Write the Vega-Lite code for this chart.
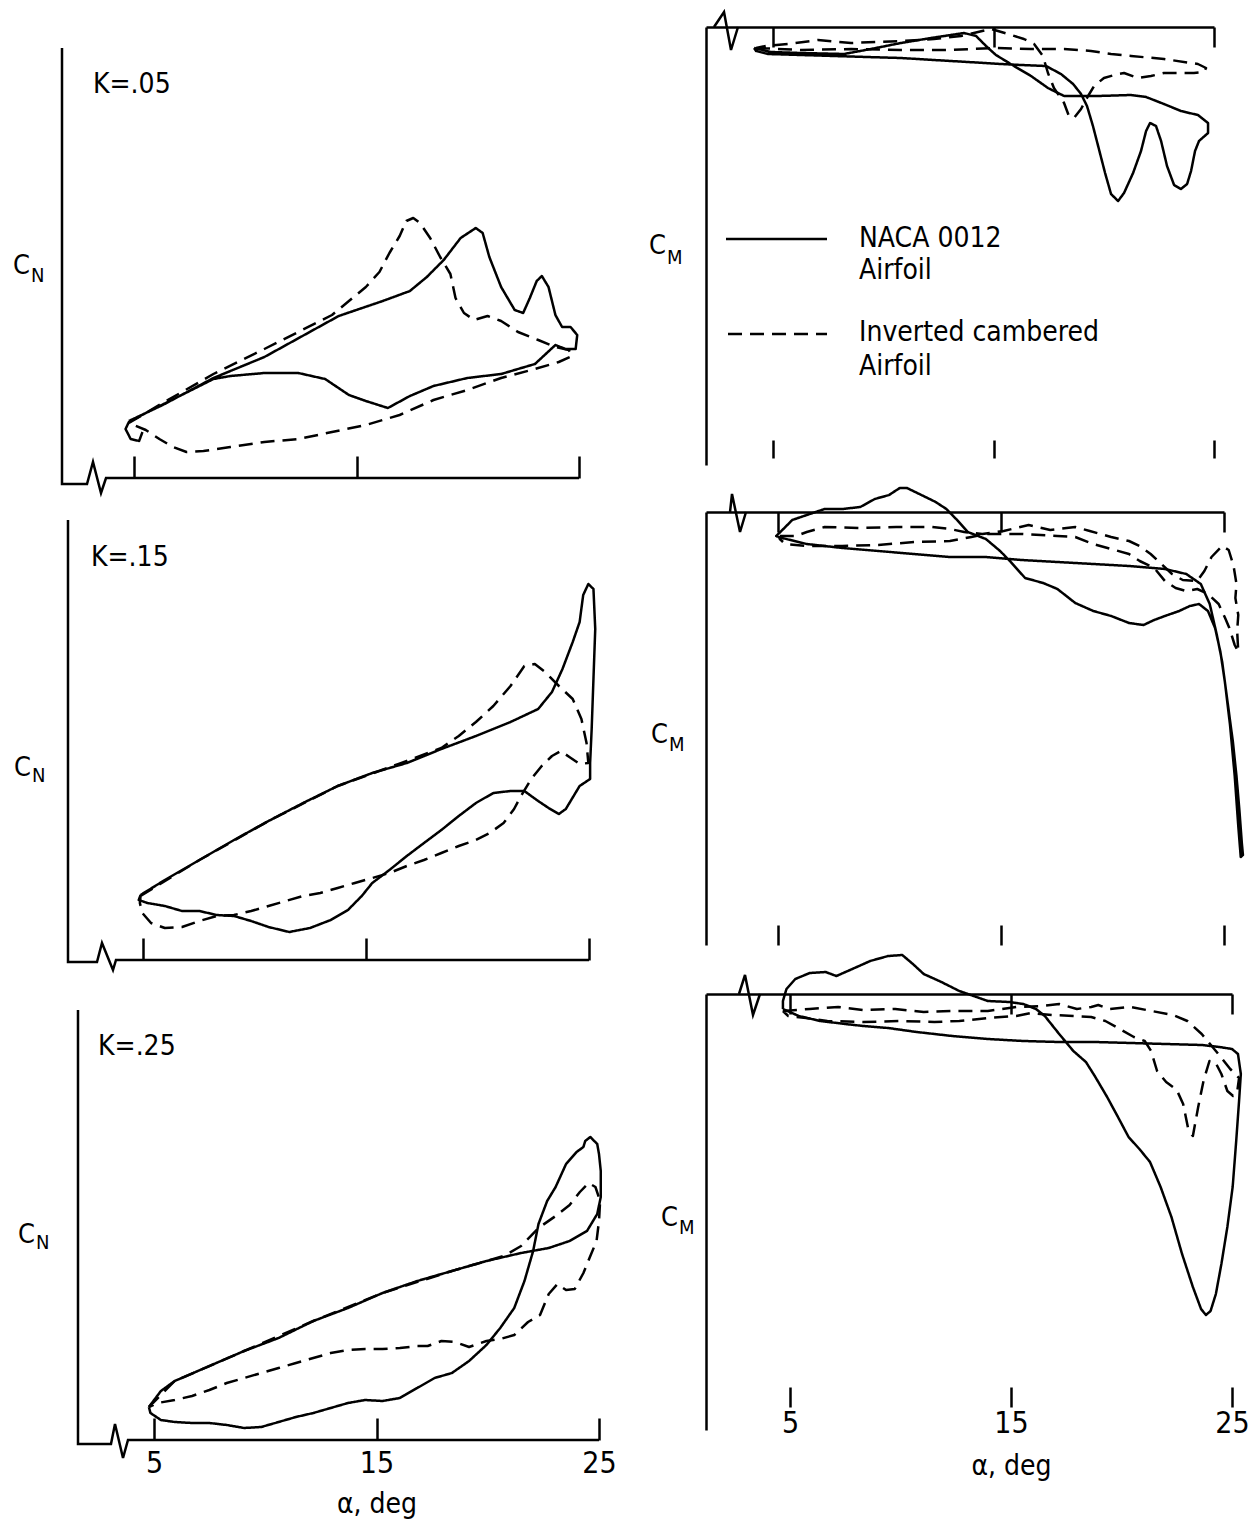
{
"$schema": "https://vega.github.io/schema/vega-lite/v6.json",
"padding": {"left": 12, "top": 6, "right": 10, "bottom": 10},
"background": "white",
"config": {
  "view": {"stroke": null},
  "font": "DejaVu Sans Condensed, DejaVu Sans",
  "text": {"color": "black"},
  "line": {"color": "black"},
  "axis": {"grid": false, "domainColor": "black", "tickColor": "black", "labelColor": "black", "titleColor": "black", "tickWidth": 2.5, "domainWidth": 2.5, "labelFontSize": 30, "titleFontSize": 28, "titleFontWeight": "normal", "labelFlush": false, "labelOverlap": false, "labelFont": "DejaVu Sans Condensed, DejaVu Sans", "titleFont": "DejaVu Sans Condensed, DejaVu Sans"}
},
"datasets": {
"frame": [
{"panel":"L1","i":1,"alpha":1.764,"coef":4.30},{"panel":"L1","i":2,"alpha":1.764,"coef":-0.06},{"panel":"L1","i":3,"alpha":2.888,"coef":-0.06},{"panel":"L1","i":4,"alpha":3.157,"coef":0.16},{"panel":"L1","i":5,"alpha":3.517,"coef":-0.15},{"panel":"L1","i":6,"alpha":3.742,"coef":0},{"panel":"L1","i":7,"alpha":25,"coef":0},
{"panel":"L2","i":1,"alpha":1.637,"coef":4.40},{"panel":"L2","i":2,"alpha":1.637,"coef":-0.02},{"panel":"L2","i":3,"alpha":2.937,"coef":-0.02},{"panel":"L2","i":4,"alpha":3.161,"coef":0.17},{"panel":"L2","i":5,"alpha":3.655,"coef":-0.10},{"panel":"L2","i":6,"alpha":3.789,"coef":0},{"panel":"L2","i":7,"alpha":25,"coef":0},
{"panel":"L3","i":1,"alpha":1.584,"coef":4.30},{"panel":"L3","i":2,"alpha":1.584,"coef":-0.04},{"panel":"L3","i":3,"alpha":3.067,"coef":-0.04},{"panel":"L3","i":4,"alpha":3.247,"coef":0.16},{"panel":"L3","i":5,"alpha":3.607,"coef":-0.18},{"panel":"L3","i":6,"alpha":3.831,"coef":0},{"panel":"L3","i":7,"alpha":25,"coef":0},
{"panel":"R1","i":1,"alpha":2.324,"coef":0},{"panel":"R1","i":2,"alpha":2.778,"coef":0.15},{"panel":"R1","i":3,"alpha":3.095,"coef":-0.23},{"panel":"R1","i":4,"alpha":3.413,"coef":0},
{"panel":"R2","i":1,"alpha":2.848,"coef":0},{"panel":"R2","i":2,"alpha":2.937,"coef":0.18},{"panel":"R2","i":3,"alpha":3.296,"coef":-0.20},{"panel":"R2","i":4,"alpha":3.565,"coef":0},
{"panel":"R3","i":1,"alpha":2.692,"coef":0},{"panel":"R3","i":2,"alpha":2.964,"coef":0.19},{"panel":"R3","i":3,"alpha":3.326,"coef":-0.21},{"panel":"R3","i":4,"alpha":3.643,"coef":0}
],
"labels": [
{"panel":"L1","role":"sym","text":"C","alpha":-0.44,"coef":2.12},{"panel":"L1","role":"sub","text":"N","alpha":0.37,"coef":2.02},{"panel":"L1","role":"k","text":"K=.05","alpha":3.157,"coef":3.93},
{"panel":"L2","role":"sym","text":"C","alpha":-0.785,"coef":1.92},{"panel":"L2","role":"sub","text":"N","alpha":0.02,"coef":1.84},{"panel":"L2","role":"k","text":"K=.15","alpha":2.668,"coef":4.02},
{"panel":"L3","role":"sym","text":"C","alpha":-1.11,"coef":2.05},{"panel":"L3","role":"sub","text":"N","alpha":-0.30,"coef":1.97},{"panel":"L3","role":"k","text":"K=.25","alpha":2.483,"coef":3.93},
{"panel":"R1","role":"sym","text":"C","alpha":-0.624,"coef":-2.19},{"panel":"R1","role":"sub","text":"M","alpha":0.19,"coef":-2.31},
{"panel":"R1","role":"leg","text":"NACA 0012","alpha":8.9,"coef":-2.12},{"panel":"R1","role":"leg","text":"Airfoil","alpha":8.9,"coef":-2.44},{"panel":"R1","role":"leg","text":"Inverted cambered","alpha":8.9,"coef":-3.06},{"panel":"R1","role":"leg","text":"Airfoil","alpha":8.9,"coef":-3.40},
{"panel":"R2","role":"sym","text":"C","alpha":-0.695,"coef":-2.23},{"panel":"R2","role":"sub","text":"M","alpha":0.11,"coef":-2.33},
{"panel":"R3","role":"sym","text":"C","alpha":-0.837,"coef":-2.24},{"panel":"R3","role":"sub","text":"M","alpha":-0.02,"coef":-2.34}
],
"legend": [
{"airfoil":"NACA 0012","i":1,"alpha":2.868,"coef":-2.12},{"airfoil":"NACA 0012","i":2,"alpha":7.449,"coef":-2.12},
{"airfoil":"Inverted cambered","i":1,"alpha":2.959,"coef":-3.07},{"airfoil":"Inverted cambered","i":2,"alpha":7.449,"coef":-3.07}
],
"curves": [
{"panel":"L1","airfoil":"NACA 0012","i":1,"alpha":4.77,"coef":0.57},{"panel":"L1","airfoil":"NACA 0012","i":2,"alpha":6.29,"coef":0.73},{"panel":"L1","airfoil":"NACA 0012","i":3,"alpha":8.57,"coef":1.00},{"panel":"L1","airfoil":"NACA 0012","i":4,"alpha":10.86,"coef":1.21},{"panel":"L1","airfoil":"NACA 0012","i":5,"alpha":14.20,"coef":1.62},{"panel":"L1","airfoil":"NACA 0012","i":6,"alpha":16.18,"coef":1.77},{"panel":"L1","airfoil":"NACA 0012","i":7,"alpha":17.40,"coef":1.87},{"panel":"L1","airfoil":"NACA 0012","i":8,"alpha":18.16,"coef":2.01},{"panel":"L1","airfoil":"NACA 0012","i":9,"alpha":18.92,"coef":2.18},{"panel":"L1","airfoil":"NACA 0012","i":10,"alpha":19.68,"coef":2.40},
{"panel":"L1","airfoil":"NACA 0012","i":11,"alpha":20.36,"coef":2.50},{"panel":"L1","airfoil":"NACA 0012","i":12,"alpha":20.67,"coef":2.45},{"panel":"L1","airfoil":"NACA 0012","i":13,"alpha":20.97,"coef":2.21},{"panel":"L1","airfoil":"NACA 0012","i":14,"alpha":21.50,"coef":1.91},{"panel":"L1","airfoil":"NACA 0012","i":15,"alpha":22.11,"coef":1.68},{"panel":"L1","airfoil":"NACA 0012","i":16,"alpha":22.49,"coef":1.65},{"panel":"L1","airfoil":"NACA 0012","i":17,"alpha":22.79,"coef":1.80},{"panel":"L1","airfoil":"NACA 0012","i":18,"alpha":23.10,"coef":1.97},{"panel":"L1","airfoil":"NACA 0012","i":19,"alpha":23.33,"coef":2.02},{"panel":"L1","airfoil":"NACA 0012","i":20,"alpha":23.63,"coef":1.91},
{"panel":"L1","airfoil":"NACA 0012","i":21,"alpha":23.94,"coef":1.63},{"panel":"L1","airfoil":"NACA 0012","i":22,"alpha":24.24,"coef":1.51},{"panel":"L1","airfoil":"NACA 0012","i":23,"alpha":24.62,"coef":1.51},{"panel":"L1","airfoil":"NACA 0012","i":24,"alpha":24.92,"coef":1.43},{"panel":"L1","airfoil":"NACA 0012","i":25,"alpha":24.85,"coef":1.29},{"panel":"L1","airfoil":"NACA 0012","i":26,"alpha":24.39,"coef":1.29},{"panel":"L1","airfoil":"NACA 0012","i":27,"alpha":23.94,"coef":1.33},{"panel":"L1","airfoil":"NACA 0012","i":28,"alpha":23.02,"coef":1.14},{"panel":"L1","airfoil":"NACA 0012","i":29,"alpha":21.50,"coef":1.04},{"panel":"L1","airfoil":"NACA 0012","i":30,"alpha":19.98,"coef":1.00},
{"panel":"L1","airfoil":"NACA 0012","i":31,"alpha":18.46,"coef":0.92},{"panel":"L1","airfoil":"NACA 0012","i":32,"alpha":17.40,"coef":0.82},{"panel":"L1","airfoil":"NACA 0012","i":33,"alpha":16.41,"coef":0.70},{"panel":"L1","airfoil":"NACA 0012","i":34,"alpha":15.42,"coef":0.77},{"panel":"L1","airfoil":"NACA 0012","i":35,"alpha":14.66,"coef":0.83},{"panel":"L1","airfoil":"NACA 0012","i":36,"alpha":13.59,"coef":0.99},{"panel":"L1","airfoil":"NACA 0012","i":37,"alpha":12.38,"coef":1.05},{"panel":"L1","airfoil":"NACA 0012","i":38,"alpha":10.86,"coef":1.05},{"panel":"L1","airfoil":"NACA 0012","i":39,"alpha":9.33,"coef":1.02},{"panel":"L1","airfoil":"NACA 0012","i":40,"alpha":8.57,"coef":0.99},
{"panel":"L1","airfoil":"NACA 0012","i":41,"alpha":7.05,"coef":0.82},{"panel":"L1","airfoil":"NACA 0012","i":42,"alpha":5.53,"coef":0.65},{"panel":"L1","airfoil":"NACA 0012","i":43,"alpha":4.77,"coef":0.56},{"panel":"L1","airfoil":"NACA 0012","i":44,"alpha":4.62,"coef":0.49},{"panel":"L1","airfoil":"NACA 0012","i":45,"alpha":4.85,"coef":0.39},{"panel":"L1","airfoil":"NACA 0012","i":46,"alpha":5.23,"coef":0.37},{"panel":"L1","airfoil":"NACA 0012","i":47,"alpha":5.38,"coef":0.46},

{"panel":"L1","airfoil":"Inverted cambered","i":1,"alpha":4.77,"coef":0.55},{"panel":"L1","airfoil":"Inverted cambered","i":2,"alpha":6.29,"coef":0.75},{"panel":"L1","airfoil":"Inverted cambered","i":3,"alpha":8.57,"coef":1.04},{"panel":"L1","airfoil":"Inverted cambered","i":4,"alpha":10.86,"coef":1.29},{"panel":"L1","airfoil":"Inverted cambered","i":5,"alpha":12.38,"coef":1.46},{"panel":"L1","airfoil":"Inverted cambered","i":6,"alpha":13.90,"coef":1.63},{"panel":"L1","airfoil":"Inverted cambered","i":7,"alpha":15.42,"coef":1.91},{"panel":"L1","airfoil":"Inverted cambered","i":8,"alpha":16.03,"coef":2.06},{"panel":"L1","airfoil":"Inverted cambered","i":9,"alpha":16.48,"coef":2.25},{"panel":"L1","airfoil":"Inverted cambered","i":10,"alpha":16.94,"coef":2.42},
{"panel":"L1","airfoil":"Inverted cambered","i":11,"alpha":17.24,"coef":2.57},{"panel":"L1","airfoil":"Inverted cambered","i":12,"alpha":17.55,"coef":2.60},{"panel":"L1","airfoil":"Inverted cambered","i":13,"alpha":17.85,"coef":2.55},{"panel":"L1","airfoil":"Inverted cambered","i":14,"alpha":18.31,"coef":2.40},{"panel":"L1","airfoil":"Inverted cambered","i":15,"alpha":18.76,"coef":2.21},{"panel":"L1","airfoil":"Inverted cambered","i":16,"alpha":19.22,"coef":2.04},{"panel":"L1","airfoil":"Inverted cambered","i":17,"alpha":19.45,"coef":1.80},{"panel":"L1","airfoil":"Inverted cambered","i":18,"alpha":19.83,"coef":1.65},{"panel":"L1","airfoil":"Inverted cambered","i":19,"alpha":20.29,"coef":1.58},{"panel":"L1","airfoil":"Inverted cambered","i":20,"alpha":20.89,"coef":1.62},
{"panel":"L1","airfoil":"Inverted cambered","i":21,"alpha":21.50,"coef":1.57},{"panel":"L1","airfoil":"Inverted cambered","i":22,"alpha":22.26,"coef":1.46},{"panel":"L1","airfoil":"Inverted cambered","i":23,"alpha":23.17,"coef":1.38},{"panel":"L1","airfoil":"Inverted cambered","i":24,"alpha":23.94,"coef":1.31},{"panel":"L1","airfoil":"Inverted cambered","i":25,"alpha":24.54,"coef":1.28},{"panel":"L1","airfoil":"Inverted cambered","i":26,"alpha":24.70,"coef":1.22},{"panel":"L1","airfoil":"Inverted cambered","i":27,"alpha":24.09,"coef":1.16},{"panel":"L1","airfoil":"Inverted cambered","i":28,"alpha":23.02,"coef":1.09},{"panel":"L1","airfoil":"Inverted cambered","i":29,"alpha":21.50,"coef":1.00},{"panel":"L1","airfoil":"Inverted cambered","i":30,"alpha":19.98,"coef":0.88},
{"panel":"L1","airfoil":"Inverted cambered","i":31,"alpha":18.46,"coef":0.78},{"panel":"L1","airfoil":"Inverted cambered","i":32,"alpha":16.94,"coef":0.63},{"panel":"L1","airfoil":"Inverted cambered","i":33,"alpha":15.42,"coef":0.53},{"panel":"L1","airfoil":"Inverted cambered","i":34,"alpha":13.90,"coef":0.46},{"panel":"L1","airfoil":"Inverted cambered","i":35,"alpha":12.38,"coef":0.39},{"panel":"L1","airfoil":"Inverted cambered","i":36,"alpha":10.86,"coef":0.36},{"panel":"L1","airfoil":"Inverted cambered","i":37,"alpha":9.33,"coef":0.31},{"panel":"L1","airfoil":"Inverted cambered","i":38,"alpha":8.12,"coef":0.27},{"panel":"L1","airfoil":"Inverted cambered","i":39,"alpha":7.36,"coef":0.26},{"panel":"L1","airfoil":"Inverted cambered","i":40,"alpha":6.75,"coef":0.31},
{"panel":"L1","airfoil":"Inverted cambered","i":41,"alpha":6.14,"coef":0.39},{"panel":"L1","airfoil":"Inverted cambered","i":42,"alpha":5.53,"coef":0.48},{"panel":"L1","airfoil":"Inverted cambered","i":43,"alpha":4.77,"coef":0.55},

{"panel":"L2","airfoil":"NACA 0012","i":1,"alpha":4.89,"coef":0.65},{"panel":"L2","airfoil":"NACA 0012","i":2,"alpha":5.98,"coef":0.80},{"panel":"L2","airfoil":"NACA 0012","i":3,"alpha":7.53,"coef":1.00},{"panel":"L2","airfoil":"NACA 0012","i":4,"alpha":9.08,"coef":1.20},{"panel":"L2","airfoil":"NACA 0012","i":5,"alpha":10.63,"coef":1.39},{"panel":"L2","airfoil":"NACA 0012","i":6,"alpha":12.18,"coef":1.57},{"panel":"L2","airfoil":"NACA 0012","i":7,"alpha":13.73,"coef":1.74},{"panel":"L2","airfoil":"NACA 0012","i":8,"alpha":15.28,"coef":1.87},{"panel":"L2","airfoil":"NACA 0012","i":9,"alpha":16.83,"coef":1.97},{"panel":"L2","airfoil":"NACA 0012","i":10,"alpha":18.38,"coef":2.11},
{"panel":"L2","airfoil":"NACA 0012","i":11,"alpha":19.93,"coef":2.24},{"panel":"L2","airfoil":"NACA 0012","i":12,"alpha":21.48,"coef":2.38},{"panel":"L2","airfoil":"NACA 0012","i":13,"alpha":22.72,"coef":2.51},{"panel":"L2","airfoil":"NACA 0012","i":14,"alpha":23.34,"coef":2.68},{"panel":"L2","airfoil":"NACA 0012","i":15,"alpha":23.81,"coef":2.91},{"panel":"L2","airfoil":"NACA 0012","i":16,"alpha":24.27,"coef":3.18},{"panel":"L2","airfoil":"NACA 0012","i":17,"alpha":24.58,"coef":3.38},{"panel":"L2","airfoil":"NACA 0012","i":18,"alpha":24.74,"coef":3.65},{"panel":"L2","airfoil":"NACA 0012","i":19,"alpha":24.97,"coef":3.76},{"panel":"L2","airfoil":"NACA 0012","i":20,"alpha":25.20,"coef":3.71},
{"panel":"L2","airfoil":"NACA 0012","i":21,"alpha":25.28,"coef":3.31},{"panel":"L2","airfoil":"NACA 0012","i":22,"alpha":25.20,"coef":2.81},{"panel":"L2","airfoil":"NACA 0012","i":23,"alpha":25.12,"coef":2.31},{"panel":"L2","airfoil":"NACA 0012","i":24,"alpha":25.05,"coef":1.97},{"panel":"L2","airfoil":"NACA 0012","i":25,"alpha":25.05,"coef":1.81},{"panel":"L2","airfoil":"NACA 0012","i":26,"alpha":24.58,"coef":1.74},{"panel":"L2","airfoil":"NACA 0012","i":27,"alpha":23.96,"coef":1.51},{"panel":"L2","airfoil":"NACA 0012","i":28,"alpha":23.65,"coef":1.46},{"panel":"L2","airfoil":"NACA 0012","i":29,"alpha":23.19,"coef":1.52},{"panel":"L2","airfoil":"NACA 0012","i":30,"alpha":22.72,"coef":1.59},
{"panel":"L2","airfoil":"NACA 0012","i":31,"alpha":22.10,"coef":1.69},{"panel":"L2","airfoil":"NACA 0012","i":32,"alpha":21.48,"coef":1.69},{"panel":"L2","airfoil":"NACA 0012","i":33,"alpha":20.71,"coef":1.67},{"panel":"L2","airfoil":"NACA 0012","i":34,"alpha":19.93,"coef":1.57},{"panel":"L2","airfoil":"NACA 0012","i":35,"alpha":19.16,"coef":1.44},{"panel":"L2","airfoil":"NACA 0012","i":36,"alpha":18.38,"coef":1.30},{"panel":"L2","airfoil":"NACA 0012","i":37,"alpha":17.60,"coef":1.17},{"panel":"L2","airfoil":"NACA 0012","i":38,"alpha":16.83,"coef":1.04},{"panel":"L2","airfoil":"NACA 0012","i":39,"alpha":16.05,"coef":0.90},{"panel":"L2","airfoil":"NACA 0012","i":40,"alpha":15.28,"coef":0.77},
{"panel":"L2","airfoil":"NACA 0012","i":41,"alpha":14.81,"coef":0.64},{"panel":"L2","airfoil":"NACA 0012","i":42,"alpha":14.19,"coef":0.50},{"panel":"L2","airfoil":"NACA 0012","i":43,"alpha":13.42,"coef":0.40},{"panel":"L2","airfoil":"NACA 0012","i":44,"alpha":12.49,"coef":0.32},{"panel":"L2","airfoil":"NACA 0012","i":45,"alpha":11.56,"coef":0.28},{"panel":"L2","airfoil":"NACA 0012","i":46,"alpha":10.63,"coef":0.33},{"panel":"L2","airfoil":"NACA 0012","i":47,"alpha":9.85,"coef":0.39},{"panel":"L2","airfoil":"NACA 0012","i":48,"alpha":9.08,"coef":0.44},{"panel":"L2","airfoil":"NACA 0012","i":49,"alpha":8.30,"coef":0.45},{"panel":"L2","airfoil":"NACA 0012","i":50,"alpha":7.53,"coef":0.49},
{"panel":"L2","airfoil":"NACA 0012","i":51,"alpha":6.75,"coef":0.49},{"panel":"L2","airfoil":"NACA 0012","i":52,"alpha":5.98,"coef":0.54},{"panel":"L2","airfoil":"NACA 0012","i":53,"alpha":5.20,"coef":0.57},{"panel":"L2","airfoil":"NACA 0012","i":54,"alpha":4.81,"coef":0.60},{"panel":"L2","airfoil":"NACA 0012","i":55,"alpha":4.89,"coef":0.65},

{"panel":"L2","airfoil":"Inverted cambered","i":1,"alpha":4.89,"coef":0.64},{"panel":"L2","airfoil":"Inverted cambered","i":2,"alpha":7.53,"coef":1.00},{"panel":"L2","airfoil":"Inverted cambered","i":3,"alpha":10.63,"coef":1.39},{"panel":"L2","airfoil":"Inverted cambered","i":4,"alpha":13.73,"coef":1.74},{"panel":"L2","airfoil":"Inverted cambered","i":5,"alpha":16.83,"coef":1.99},{"panel":"L2","airfoil":"Inverted cambered","i":6,"alpha":18.38,"coef":2.12},{"panel":"L2","airfoil":"Inverted cambered","i":7,"alpha":19.16,"coef":2.24},{"panel":"L2","airfoil":"Inverted cambered","i":8,"alpha":19.93,"coef":2.38},{"panel":"L2","airfoil":"Inverted cambered","i":9,"alpha":20.71,"coef":2.54},{"panel":"L2","airfoil":"Inverted cambered","i":10,"alpha":21.48,"coef":2.74},
{"panel":"L2","airfoil":"Inverted cambered","i":11,"alpha":22.10,"coef":2.94},{"panel":"L2","airfoil":"Inverted cambered","i":12,"alpha":22.57,"coef":2.96},{"panel":"L2","airfoil":"Inverted cambered","i":13,"alpha":23.03,"coef":2.88},{"panel":"L2","airfoil":"Inverted cambered","i":14,"alpha":23.65,"coef":2.74},{"panel":"L2","airfoil":"Inverted cambered","i":15,"alpha":24.27,"coef":2.61},{"panel":"L2","airfoil":"Inverted cambered","i":16,"alpha":24.66,"coef":2.41},{"panel":"L2","airfoil":"Inverted cambered","i":17,"alpha":24.89,"coef":2.17},{"panel":"L2","airfoil":"Inverted cambered","i":18,"alpha":24.97,"coef":1.97},{"panel":"L2","airfoil":"Inverted cambered","i":19,"alpha":24.58,"coef":1.96},{"panel":"L2","airfoil":"Inverted cambered","i":20,"alpha":24.12,"coef":2.03},
{"panel":"L2","airfoil":"Inverted cambered","i":21,"alpha":23.73,"coef":2.09},{"panel":"L2","airfoil":"Inverted cambered","i":22,"alpha":23.34,"coef":2.04},{"panel":"L2","airfoil":"Inverted cambered","i":23,"alpha":22.88,"coef":1.94},{"panel":"L2","airfoil":"Inverted cambered","i":24,"alpha":22.41,"coef":1.81},{"panel":"L2","airfoil":"Inverted cambered","i":25,"alpha":21.95,"coef":1.64},{"panel":"L2","airfoil":"Inverted cambered","i":26,"alpha":21.64,"coef":1.51},{"panel":"L2","airfoil":"Inverted cambered","i":27,"alpha":21.17,"coef":1.37},{"panel":"L2","airfoil":"Inverted cambered","i":28,"alpha":20.55,"coef":1.27},{"panel":"L2","airfoil":"Inverted cambered","i":29,"alpha":19.93,"coef":1.20},{"panel":"L2","airfoil":"Inverted cambered","i":30,"alpha":19.16,"coef":1.14},
{"panel":"L2","airfoil":"Inverted cambered","i":31,"alpha":18.38,"coef":1.07},{"panel":"L2","airfoil":"Inverted cambered","i":32,"alpha":17.60,"coef":1.00},{"panel":"L2","airfoil":"Inverted cambered","i":33,"alpha":16.83,"coef":0.94},{"panel":"L2","airfoil":"Inverted cambered","i":34,"alpha":16.05,"coef":0.87},{"panel":"L2","airfoil":"Inverted cambered","i":35,"alpha":15.28,"coef":0.82},{"panel":"L2","airfoil":"Inverted cambered","i":36,"alpha":14.50,"coef":0.77},{"panel":"L2","airfoil":"Inverted cambered","i":37,"alpha":13.73,"coef":0.72},{"panel":"L2","airfoil":"Inverted cambered","i":38,"alpha":12.95,"coef":0.67},{"panel":"L2","airfoil":"Inverted cambered","i":39,"alpha":12.18,"coef":0.64},{"panel":"L2","airfoil":"Inverted cambered","i":40,"alpha":11.40,"coef":0.59},
{"panel":"L2","airfoil":"Inverted cambered","i":41,"alpha":10.63,"coef":0.54},{"panel":"L2","airfoil":"Inverted cambered","i":42,"alpha":9.85,"coef":0.49},{"panel":"L2","airfoil":"Inverted cambered","i":43,"alpha":9.08,"coef":0.45},{"panel":"L2","airfoil":"Inverted cambered","i":44,"alpha":8.30,"coef":0.44},{"panel":"L2","airfoil":"Inverted cambered","i":45,"alpha":7.53,"coef":0.39},{"panel":"L2","airfoil":"Inverted cambered","i":46,"alpha":6.75,"coef":0.33},{"panel":"L2","airfoil":"Inverted cambered","i":47,"alpha":5.98,"coef":0.32},{"panel":"L2","airfoil":"Inverted cambered","i":48,"alpha":5.36,"coef":0.37},{"panel":"L2","airfoil":"Inverted cambered","i":49,"alpha":4.97,"coef":0.47},{"panel":"L2","airfoil":"Inverted cambered","i":50,"alpha":4.86,"coef":0.57},
{"panel":"L2","airfoil":"Inverted cambered","i":51,"alpha":4.89,"coef":0.64},

{"panel":"L3","airfoil":"NACA 0012","i":1,"alpha":4.77,"coef":0.33},{"panel":"L3","airfoil":"NACA 0012","i":2,"alpha":5.31,"coef":0.49},{"panel":"L3","airfoil":"NACA 0012","i":3,"alpha":5.93,"coef":0.59},{"panel":"L3","airfoil":"NACA 0012","i":4,"alpha":7.49,"coef":0.74},{"panel":"L3","airfoil":"NACA 0012","i":5,"alpha":9.05,"coef":0.89},{"panel":"L3","airfoil":"NACA 0012","i":6,"alpha":10.60,"coef":1.02},{"panel":"L3","airfoil":"NACA 0012","i":7,"alpha":12.16,"coef":1.19},{"panel":"L3","airfoil":"NACA 0012","i":8,"alpha":13.72,"coef":1.32},{"panel":"L3","airfoil":"NACA 0012","i":9,"alpha":15.27,"coef":1.47},{"panel":"L3","airfoil":"NACA 0012","i":10,"alpha":16.83,"coef":1.59},
{"panel":"L3","airfoil":"NACA 0012","i":11,"alpha":18.39,"coef":1.69},{"panel":"L3","airfoil":"NACA 0012","i":12,"alpha":19.94,"coef":1.79},{"panel":"L3","airfoil":"NACA 0012","i":13,"alpha":21.50,"coef":1.87},{"panel":"L3","airfoil":"NACA 0012","i":14,"alpha":22.74,"coef":1.92},{"panel":"L3","airfoil":"NACA 0012","i":15,"alpha":23.68,"coef":1.99},{"panel":"L3","airfoil":"NACA 0012","i":16,"alpha":24.46,"coef":2.09},{"panel":"L3","airfoil":"NACA 0012","i":17,"alpha":24.92,"coef":2.26},{"panel":"L3","airfoil":"NACA 0012","i":18,"alpha":25.08,"coef":2.43},{"panel":"L3","airfoil":"NACA 0012","i":19,"alpha":25.08,"coef":2.69},{"panel":"L3","airfoil":"NACA 0012","i":20,"alpha":25.00,"coef":2.86},
{"panel":"L3","airfoil":"NACA 0012","i":21,"alpha":24.92,"coef":2.96},{"panel":"L3","airfoil":"NACA 0012","i":22,"alpha":24.61,"coef":3.03},{"panel":"L3","airfoil":"NACA 0012","i":23,"alpha":24.38,"coef":2.99},{"panel":"L3","airfoil":"NACA 0012","i":24,"alpha":24.30,"coef":2.93},{"panel":"L3","airfoil":"NACA 0012","i":25,"alpha":23.99,"coef":2.88},{"panel":"L3","airfoil":"NACA 0012","i":26,"alpha":23.52,"coef":2.76},{"panel":"L3","airfoil":"NACA 0012","i":27,"alpha":23.05,"coef":2.53},{"panel":"L3","airfoil":"NACA 0012","i":28,"alpha":22.67,"coef":2.39},{"panel":"L3","airfoil":"NACA 0012","i":29,"alpha":22.28,"coef":2.16},{"panel":"L3","airfoil":"NACA 0012","i":30,"alpha":22.04,"coef":1.89},
{"panel":"L3","airfoil":"NACA 0012","i":31,"alpha":21.65,"coef":1.59},{"panel":"L3","airfoil":"NACA 0012","i":32,"alpha":21.19,"coef":1.32},{"panel":"L3","airfoil":"NACA 0012","i":33,"alpha":20.56,"coef":1.12},{"panel":"L3","airfoil":"NACA 0012","i":34,"alpha":19.94,"coef":0.95},{"panel":"L3","airfoil":"NACA 0012","i":35,"alpha":19.16,"coef":0.79},{"panel":"L3","airfoil":"NACA 0012","i":36,"alpha":18.39,"coef":0.67},{"panel":"L3","airfoil":"NACA 0012","i":37,"alpha":17.61,"coef":0.62},{"panel":"L3","airfoil":"NACA 0012","i":38,"alpha":16.83,"coef":0.52},{"panel":"L3","airfoil":"NACA 0012","i":39,"alpha":16.05,"coef":0.42},{"panel":"L3","airfoil":"NACA 0012","i":40,"alpha":15.27,"coef":0.39},
{"panel":"L3","airfoil":"NACA 0012","i":41,"alpha":14.49,"coef":0.40},{"panel":"L3","airfoil":"NACA 0012","i":42,"alpha":13.72,"coef":0.37},{"panel":"L3","airfoil":"NACA 0012","i":43,"alpha":12.94,"coef":0.32},{"panel":"L3","airfoil":"NACA 0012","i":44,"alpha":12.16,"coef":0.27},{"panel":"L3","airfoil":"NACA 0012","i":45,"alpha":11.38,"coef":0.23},{"panel":"L3","airfoil":"NACA 0012","i":46,"alpha":10.60,"coef":0.18},{"panel":"L3","airfoil":"NACA 0012","i":47,"alpha":9.82,"coef":0.13},{"panel":"L3","airfoil":"NACA 0012","i":48,"alpha":9.05,"coef":0.12},{"panel":"L3","airfoil":"NACA 0012","i":49,"alpha":8.27,"coef":0.15},{"panel":"L3","airfoil":"NACA 0012","i":50,"alpha":7.49,"coef":0.17},
{"panel":"L3","airfoil":"NACA 0012","i":51,"alpha":6.71,"coef":0.17},{"panel":"L3","airfoil":"NACA 0012","i":52,"alpha":5.93,"coef":0.18},{"panel":"L3","airfoil":"NACA 0012","i":53,"alpha":5.31,"coef":0.20},{"panel":"L3","airfoil":"NACA 0012","i":54,"alpha":4.84,"coef":0.27},{"panel":"L3","airfoil":"NACA 0012","i":55,"alpha":4.77,"coef":0.33},

{"panel":"L3","airfoil":"Inverted cambered","i":1,"alpha":4.77,"coef":0.33},{"panel":"L3","airfoil":"Inverted cambered","i":2,"alpha":5.93,"coef":0.59},{"panel":"L3","airfoil":"Inverted cambered","i":3,"alpha":9.05,"coef":0.89},{"panel":"L3","airfoil":"Inverted cambered","i":4,"alpha":12.16,"coef":1.19},{"panel":"L3","airfoil":"Inverted cambered","i":5,"alpha":15.27,"coef":1.47},{"panel":"L3","airfoil":"Inverted cambered","i":6,"alpha":18.39,"coef":1.69},{"panel":"L3","airfoil":"Inverted cambered","i":7,"alpha":20.72,"coef":1.84},{"panel":"L3","airfoil":"Inverted cambered","i":8,"alpha":21.50,"coef":1.94},{"panel":"L3","airfoil":"Inverted cambered","i":9,"alpha":22.28,"coef":2.12},{"panel":"L3","airfoil":"Inverted cambered","i":10,"alpha":23.05,"coef":2.24},
{"panel":"L3","airfoil":"Inverted cambered","i":11,"alpha":23.68,"coef":2.35},{"panel":"L3","airfoil":"Inverted cambered","i":12,"alpha":24.14,"coef":2.48},{"panel":"L3","airfoil":"Inverted cambered","i":13,"alpha":24.53,"coef":2.57},{"panel":"L3","airfoil":"Inverted cambered","i":14,"alpha":24.84,"coef":2.53},{"panel":"L3","airfoil":"Inverted cambered","i":15,"alpha":25.05,"coef":2.39},{"panel":"L3","airfoil":"Inverted cambered","i":16,"alpha":25.00,"coef":2.19},{"panel":"L3","airfoil":"Inverted cambered","i":17,"alpha":24.89,"coef":1.99},{"panel":"L3","airfoil":"Inverted cambered","i":18,"alpha":24.61,"coef":1.84},{"panel":"L3","airfoil":"Inverted cambered","i":19,"alpha":24.30,"coef":1.67},{"panel":"L3","airfoil":"Inverted cambered","i":20,"alpha":23.91,"coef":1.51},
{"panel":"L3","airfoil":"Inverted cambered","i":21,"alpha":23.52,"coef":1.50},{"panel":"L3","airfoil":"Inverted cambered","i":22,"alpha":23.13,"coef":1.56},{"panel":"L3","airfoil":"Inverted cambered","i":23,"alpha":22.74,"coef":1.46},{"panel":"L3","airfoil":"Inverted cambered","i":24,"alpha":22.35,"coef":1.25},{"panel":"L3","airfoil":"Inverted cambered","i":25,"alpha":21.81,"coef":1.18},{"panel":"L3","airfoil":"Inverted cambered","i":26,"alpha":21.19,"coef":1.05},{"panel":"L3","airfoil":"Inverted cambered","i":27,"alpha":20.56,"coef":1.01},{"panel":"L3","airfoil":"Inverted cambered","i":28,"alpha":19.94,"coef":0.99},{"panel":"L3","airfoil":"Inverted cambered","i":29,"alpha":19.16,"coef":0.93},{"panel":"L3","airfoil":"Inverted cambered","i":30,"alpha":18.54,"coef":0.98},
{"panel":"L3","airfoil":"Inverted cambered","i":31,"alpha":17.92,"coef":0.99},{"panel":"L3","airfoil":"Inverted cambered","i":32,"alpha":17.30,"coef":0.94},{"panel":"L3","airfoil":"Inverted cambered","i":33,"alpha":16.83,"coef":0.94},{"panel":"L3","airfoil":"Inverted cambered","i":34,"alpha":16.05,"coef":0.92},{"panel":"L3","airfoil":"Inverted cambered","i":35,"alpha":15.27,"coef":0.91},{"panel":"L3","airfoil":"Inverted cambered","i":36,"alpha":14.49,"coef":0.91},{"panel":"L3","airfoil":"Inverted cambered","i":37,"alpha":13.72,"coef":0.90},{"panel":"L3","airfoil":"Inverted cambered","i":38,"alpha":12.94,"coef":0.87},{"panel":"L3","airfoil":"Inverted cambered","i":39,"alpha":12.16,"coef":0.82},{"panel":"L3","airfoil":"Inverted cambered","i":40,"alpha":11.38,"coef":0.77},
{"panel":"L3","airfoil":"Inverted cambered","i":41,"alpha":10.60,"coef":0.72},{"panel":"L3","airfoil":"Inverted cambered","i":42,"alpha":9.82,"coef":0.67},{"panel":"L3","airfoil":"Inverted cambered","i":43,"alpha":9.05,"coef":0.62},{"panel":"L3","airfoil":"Inverted cambered","i":44,"alpha":8.27,"coef":0.57},{"panel":"L3","airfoil":"Inverted cambered","i":45,"alpha":7.49,"coef":0.50},{"panel":"L3","airfoil":"Inverted cambered","i":46,"alpha":6.71,"coef":0.44},{"panel":"L3","airfoil":"Inverted cambered","i":47,"alpha":5.93,"coef":0.40},{"panel":"L3","airfoil":"Inverted cambered","i":48,"alpha":5.16,"coef":0.37},{"panel":"L3","airfoil":"Inverted cambered","i":49,"alpha":4.77,"coef":0.33},

{"panel":"R1","airfoil":"NACA 0012","i":1,"alpha":4.14,"coef":-0.21},{"panel":"R1","airfoil":"NACA 0012","i":2,"alpha":4.91,"coef":-0.25},{"panel":"R1","airfoil":"NACA 0012","i":3,"alpha":6.27,"coef":-0.26},{"panel":"R1","airfoil":"NACA 0012","i":4,"alpha":8.22,"coef":-0.27},{"panel":"R1","airfoil":"NACA 0012","i":5,"alpha":9.44,"coef":-0.22},{"panel":"R1","airfoil":"NACA 0012","i":6,"alpha":10.80,"coef":-0.16},{"panel":"R1","airfoil":"NACA 0012","i":7,"alpha":12.17,"coef":-0.11},{"panel":"R1","airfoil":"NACA 0012","i":8,"alpha":13.66,"coef":-0.06},{"panel":"R1","airfoil":"NACA 0012","i":9,"alpha":14.21,"coef":-0.09},{"panel":"R1","airfoil":"NACA 0012","i":10,"alpha":14.66,"coef":-0.19},
{"panel":"R1","airfoil":"NACA 0012","i":11,"alpha":15.11,"coef":-0.28},{"panel":"R1","airfoil":"NACA 0012","i":12,"alpha":15.93,"coef":-0.39},{"panel":"R1","airfoil":"NACA 0012","i":13,"alpha":16.70,"coef":-0.49},{"panel":"R1","airfoil":"NACA 0012","i":14,"alpha":17.47,"coef":-0.61},{"panel":"R1","airfoil":"NACA 0012","i":15,"alpha":18.20,"coef":-0.69},{"panel":"R1","airfoil":"NACA 0012","i":16,"alpha":19.74,"coef":-0.69},{"panel":"R1","airfoil":"NACA 0012","i":17,"alpha":21.24,"coef":-0.68},{"panel":"R1","airfoil":"NACA 0012","i":18,"alpha":21.92,"coef":-0.70},{"panel":"R1","airfoil":"NACA 0012","i":19,"alpha":22.73,"coef":-0.77},{"panel":"R1","airfoil":"NACA 0012","i":20,"alpha":23.50,"coef":-0.84},
{"panel":"R1","airfoil":"NACA 0012","i":21,"alpha":24.27,"coef":-0.88},{"panel":"R1","airfoil":"NACA 0012","i":22,"alpha":24.73,"coef":-0.96},{"panel":"R1","airfoil":"NACA 0012","i":23,"alpha":24.73,"coef":-1.06},{"panel":"R1","airfoil":"NACA 0012","i":24,"alpha":24.32,"coef":-1.14},{"panel":"R1","airfoil":"NACA 0012","i":25,"alpha":24.14,"coef":-1.24},{"panel":"R1","airfoil":"NACA 0012","i":26,"alpha":23.96,"coef":-1.44},{"panel":"R1","airfoil":"NACA 0012","i":27,"alpha":23.78,"coef":-1.57},{"panel":"R1","airfoil":"NACA 0012","i":28,"alpha":23.50,"coef":-1.62},{"panel":"R1","airfoil":"NACA 0012","i":29,"alpha":23.19,"coef":-1.58},{"panel":"R1","airfoil":"NACA 0012","i":30,"alpha":22.87,"coef":-1.39},
{"panel":"R1","airfoil":"NACA 0012","i":31,"alpha":22.60,"coef":-1.14},{"panel":"R1","airfoil":"NACA 0012","i":32,"alpha":22.37,"coef":-0.99},{"panel":"R1","airfoil":"NACA 0012","i":33,"alpha":22.10,"coef":-0.96},{"panel":"R1","airfoil":"NACA 0012","i":34,"alpha":21.92,"coef":-1.04},{"panel":"R1","airfoil":"NACA 0012","i":35,"alpha":21.69,"coef":-1.24},{"panel":"R1","airfoil":"NACA 0012","i":36,"alpha":21.33,"coef":-1.46},{"panel":"R1","airfoil":"NACA 0012","i":37,"alpha":20.92,"coef":-1.66},{"panel":"R1","airfoil":"NACA 0012","i":38,"alpha":20.65,"coef":-1.74},{"panel":"R1","airfoil":"NACA 0012","i":39,"alpha":20.33,"coef":-1.67},{"panel":"R1","airfoil":"NACA 0012","i":40,"alpha":20.06,"coef":-1.46},
{"panel":"R1","airfoil":"NACA 0012","i":41,"alpha":19.78,"coef":-1.22},{"panel":"R1","airfoil":"NACA 0012","i":42,"alpha":19.51,"coef":-0.99},{"panel":"R1","airfoil":"NACA 0012","i":43,"alpha":19.24,"coef":-0.79},{"panel":"R1","airfoil":"NACA 0012","i":44,"alpha":18.97,"coef":-0.67},{"panel":"R1","airfoil":"NACA 0012","i":45,"alpha":18.61,"coef":-0.57},{"panel":"R1","airfoil":"NACA 0012","i":46,"alpha":18.06,"coef":-0.47},{"panel":"R1","airfoil":"NACA 0012","i":47,"alpha":17.38,"coef":-0.39},{"panel":"R1","airfoil":"NACA 0012","i":48,"alpha":16.25,"coef":-0.38},{"panel":"R1","airfoil":"NACA 0012","i":49,"alpha":15.34,"coef":-0.37},{"panel":"R1","airfoil":"NACA 0012","i":50,"alpha":13.84,"coef":-0.35},
{"panel":"R1","airfoil":"NACA 0012","i":51,"alpha":12.30,"coef":-0.33},{"panel":"R1","airfoil":"NACA 0012","i":52,"alpha":10.80,"coef":-0.31},{"panel":"R1","airfoil":"NACA 0012","i":53,"alpha":9.26,"coef":-0.30},{"panel":"R1","airfoil":"NACA 0012","i":54,"alpha":7.77,"coef":-0.29},{"panel":"R1","airfoil":"NACA 0012","i":55,"alpha":6.27,"coef":-0.28},{"panel":"R1","airfoil":"NACA 0012","i":56,"alpha":4.77,"coef":-0.27},{"panel":"R1","airfoil":"NACA 0012","i":57,"alpha":4.23,"coef":-0.24},{"panel":"R1","airfoil":"NACA 0012","i":58,"alpha":4.14,"coef":-0.21},

{"panel":"R1","airfoil":"Inverted cambered","i":1,"alpha":4.23,"coef":-0.21},{"panel":"R1","airfoil":"Inverted cambered","i":2,"alpha":6.27,"coef":-0.23},{"panel":"R1","airfoil":"Inverted cambered","i":3,"alpha":8.54,"coef":-0.22},{"panel":"R1","airfoil":"Inverted cambered","i":4,"alpha":10.80,"coef":-0.23},{"panel":"R1","airfoil":"Inverted cambered","i":5,"alpha":13.07,"coef":-0.23},{"panel":"R1","airfoil":"Inverted cambered","i":6,"alpha":15.02,"coef":-0.21},{"panel":"R1","airfoil":"Inverted cambered","i":7,"alpha":16.70,"coef":-0.22},{"panel":"R1","airfoil":"Inverted cambered","i":8,"alpha":18.20,"coef":-0.22},{"panel":"R1","airfoil":"Inverted cambered","i":9,"alpha":19.42,"coef":-0.24},{"panel":"R1","airfoil":"Inverted cambered","i":10,"alpha":20.33,"coef":-0.27},
{"panel":"R1","airfoil":"Inverted cambered","i":11,"alpha":21.24,"coef":-0.29},{"panel":"R1","airfoil":"Inverted cambered","i":12,"alpha":22.73,"coef":-0.32},{"panel":"R1","airfoil":"Inverted cambered","i":13,"alpha":24.27,"coef":-0.37},{"panel":"R1","airfoil":"Inverted cambered","i":14,"alpha":24.64,"coef":-0.41},{"panel":"R1","airfoil":"Inverted cambered","i":15,"alpha":24.55,"coef":-0.45},{"panel":"R1","airfoil":"Inverted cambered","i":16,"alpha":24.09,"coef":-0.46},{"panel":"R1","airfoil":"Inverted cambered","i":17,"alpha":22.73,"coef":-0.46},{"panel":"R1","airfoil":"Inverted cambered","i":18,"alpha":22.14,"coef":-0.49},{"panel":"R1","airfoil":"Inverted cambered","i":19,"alpha":21.55,"coef":-0.51},{"panel":"R1","airfoil":"Inverted cambered","i":20,"alpha":20.92,"coef":-0.46},
{"panel":"R1","airfoil":"Inverted cambered","i":21,"alpha":20.65,"coef":-0.47},{"panel":"R1","airfoil":"Inverted cambered","i":22,"alpha":20.01,"coef":-0.51},{"panel":"R1","airfoil":"Inverted cambered","i":23,"alpha":19.56,"coef":-0.59},{"panel":"R1","airfoil":"Inverted cambered","i":24,"alpha":19.29,"coef":-0.69},{"panel":"R1","airfoil":"Inverted cambered","i":25,"alpha":18.97,"coef":-0.82},{"panel":"R1","airfoil":"Inverted cambered","i":26,"alpha":18.65,"coef":-0.91},{"panel":"R1","airfoil":"Inverted cambered","i":27,"alpha":18.42,"coef":-0.89},{"panel":"R1","airfoil":"Inverted cambered","i":28,"alpha":18.20,"coef":-0.76},{"panel":"R1","airfoil":"Inverted cambered","i":29,"alpha":17.74,"coef":-0.61},{"panel":"R1","airfoil":"Inverted cambered","i":30,"alpha":17.47,"coef":-0.46},
{"panel":"R1","airfoil":"Inverted cambered","i":31,"alpha":17.24,"coef":-0.29},{"panel":"R1","airfoil":"Inverted cambered","i":32,"alpha":16.84,"coef":-0.17},{"panel":"R1","airfoil":"Inverted cambered","i":33,"alpha":16.38,"coef":-0.12},{"panel":"R1","airfoil":"Inverted cambered","i":34,"alpha":15.66,"coef":-0.07},{"panel":"R1","airfoil":"Inverted cambered","i":35,"alpha":14.89,"coef":-0.02},{"panel":"R1","airfoil":"Inverted cambered","i":36,"alpha":13.53,"coef":-0.09},{"panel":"R1","airfoil":"Inverted cambered","i":37,"alpha":12.30,"coef":-0.12},{"panel":"R1","airfoil":"Inverted cambered","i":38,"alpha":10.80,"coef":-0.14},{"panel":"R1","airfoil":"Inverted cambered","i":39,"alpha":8.54,"coef":-0.16},{"panel":"R1","airfoil":"Inverted cambered","i":40,"alpha":7.04,"coef":-0.13},
{"panel":"R1","airfoil":"Inverted cambered","i":41,"alpha":5.68,"coef":-0.17},{"panel":"R1","airfoil":"Inverted cambered","i":42,"alpha":4.68,"coef":-0.19},{"panel":"R1","airfoil":"Inverted cambered","i":43,"alpha":4.23,"coef":-0.21},

{"panel":"R2","airfoil":"NACA 0012","i":1,"alpha":5.00,"coef":-0.25},{"panel":"R2","airfoil":"NACA 0012","i":2,"alpha":6.29,"coef":-0.32},{"panel":"R2","airfoil":"NACA 0012","i":3,"alpha":7.89,"coef":-0.36},{"panel":"R2","airfoil":"NACA 0012","i":4,"alpha":9.50,"coef":-0.39},{"panel":"R2","airfoil":"NACA 0012","i":5,"alpha":11.10,"coef":-0.42},{"panel":"R2","airfoil":"NACA 0012","i":6,"alpha":12.71,"coef":-0.45},{"panel":"R2","airfoil":"NACA 0012","i":7,"alpha":14.32,"coef":-0.45},{"panel":"R2","airfoil":"NACA 0012","i":8,"alpha":15.92,"coef":-0.48},{"panel":"R2","airfoil":"NACA 0012","i":9,"alpha":17.53,"coef":-0.50},{"panel":"R2","airfoil":"NACA 0012","i":10,"alpha":19.14,"coef":-0.52},
{"panel":"R2","airfoil":"NACA 0012","i":11,"alpha":20.74,"coef":-0.54},{"panel":"R2","airfoil":"NACA 0012","i":12,"alpha":22.35,"coef":-0.57},{"panel":"R2","airfoil":"NACA 0012","i":13,"alpha":23.31,"coef":-0.62},{"panel":"R2","airfoil":"NACA 0012","i":14,"alpha":23.96,"coef":-0.72},{"panel":"R2","airfoil":"NACA 0012","i":15,"alpha":24.36,"coef":-0.92},{"panel":"R2","airfoil":"NACA 0012","i":16,"alpha":24.68,"coef":-1.23},{"panel":"R2","airfoil":"NACA 0012","i":17,"alpha":24.92,"coef":-1.50},{"panel":"R2","airfoil":"NACA 0012","i":18,"alpha":25.16,"coef":-1.90},{"panel":"R2","airfoil":"NACA 0012","i":19,"alpha":25.40,"coef":-2.30},{"panel":"R2","airfoil":"NACA 0012","i":20,"alpha":25.56,"coef":-2.64},
{"panel":"R2","airfoil":"NACA 0012","i":21,"alpha":25.69,"coef":-2.98},{"panel":"R2","airfoil":"NACA 0012","i":22,"alpha":25.80,"coef":-3.31},{"panel":"R2","airfoil":"NACA 0012","i":23,"alpha":25.85,"coef":-3.43},{"panel":"R2","airfoil":"NACA 0012","i":24,"alpha":25.75,"coef":-3.45},{"panel":"R2","airfoil":"NACA 0012","i":25,"alpha":25.64,"coef":-3.14},{"panel":"R2","airfoil":"NACA 0012","i":26,"alpha":25.48,"coef":-2.64},{"panel":"R2","airfoil":"NACA 0012","i":27,"alpha":25.27,"coef":-2.13},{"panel":"R2","airfoil":"NACA 0012","i":28,"alpha":25.04,"coef":-1.70},{"panel":"R2","airfoil":"NACA 0012","i":29,"alpha":24.84,"coef":-1.40},{"panel":"R2","airfoil":"NACA 0012","i":30,"alpha":24.60,"coef":-1.16},
{"panel":"R2","airfoil":"NACA 0012","i":31,"alpha":24.28,"coef":-0.99},{"panel":"R2","airfoil":"NACA 0012","i":32,"alpha":23.88,"coef":-0.92},{"panel":"R2","airfoil":"NACA 0012","i":33,"alpha":23.47,"coef":-0.94},{"panel":"R2","airfoil":"NACA 0012","i":34,"alpha":22.99,"coef":-0.99},{"panel":"R2","airfoil":"NACA 0012","i":35,"alpha":22.35,"coef":-1.04},{"panel":"R2","airfoil":"NACA 0012","i":36,"alpha":21.87,"coef":-1.08},{"panel":"R2","airfoil":"NACA 0012","i":37,"alpha":21.39,"coef":-1.13},{"panel":"R2","airfoil":"NACA 0012","i":38,"alpha":20.74,"coef":-1.11},{"panel":"R2","airfoil":"NACA 0012","i":39,"alpha":19.94,"coef":-1.04},{"panel":"R2","airfoil":"NACA 0012","i":40,"alpha":19.14,"coef":-0.99},
{"panel":"R2","airfoil":"NACA 0012","i":41,"alpha":18.33,"coef":-0.91},{"panel":"R2","airfoil":"NACA 0012","i":42,"alpha":17.53,"coef":-0.77},{"panel":"R2","airfoil":"NACA 0012","i":43,"alpha":16.89,"coef":-0.71},{"panel":"R2","airfoil":"NACA 0012","i":44,"alpha":16.08,"coef":-0.66},{"panel":"R2","airfoil":"NACA 0012","i":45,"alpha":15.44,"coef":-0.50},{"panel":"R2","airfoil":"NACA 0012","i":46,"alpha":14.96,"coef":-0.39},{"panel":"R2","airfoil":"NACA 0012","i":47,"alpha":14.32,"coef":-0.27},{"panel":"R2","airfoil":"NACA 0012","i":48,"alpha":13.51,"coef":-0.20},{"panel":"R2","airfoil":"NACA 0012","i":49,"alpha":13.03,"coef":-0.08},{"panel":"R2","airfoil":"NACA 0012","i":50,"alpha":12.55,"coef":0.03},
{"panel":"R2","airfoil":"NACA 0012","i":51,"alpha":12.07,"coef":0.10},{"panel":"R2","airfoil":"NACA 0012","i":52,"alpha":11.43,"coef":0.17},{"panel":"R2","airfoil":"NACA 0012","i":53,"alpha":10.78,"coef":0.24},{"panel":"R2","airfoil":"NACA 0012","i":54,"alpha":10.46,"coef":0.24},{"panel":"R2","airfoil":"NACA 0012","i":55,"alpha":9.98,"coef":0.17},{"panel":"R2","airfoil":"NACA 0012","i":56,"alpha":9.34,"coef":0.13},{"panel":"R2","airfoil":"NACA 0012","i":57,"alpha":8.69,"coef":0.05},{"panel":"R2","airfoil":"NACA 0012","i":58,"alpha":7.89,"coef":0.03},{"panel":"R2","airfoil":"NACA 0012","i":59,"alpha":7.09,"coef":0.03},{"panel":"R2","airfoil":"NACA 0012","i":60,"alpha":6.29,"coef":-0.03},
{"panel":"R2","airfoil":"NACA 0012","i":61,"alpha":5.64,"coef":-0.08},{"panel":"R2","airfoil":"NACA 0012","i":62,"alpha":5.24,"coef":-0.17},{"panel":"R2","airfoil":"NACA 0012","i":63,"alpha":4.92,"coef":-0.24},{"panel":"R2","airfoil":"NACA 0012","i":64,"alpha":5.00,"coef":-0.25},

{"panel":"R2","airfoil":"Inverted cambered","i":1,"alpha":5.08,"coef":-0.24},{"panel":"R2","airfoil":"Inverted cambered","i":2,"alpha":5.80,"coef":-0.24},{"panel":"R2","airfoil":"Inverted cambered","i":3,"alpha":6.29,"coef":-0.20},{"panel":"R2","airfoil":"Inverted cambered","i":4,"alpha":7.09,"coef":-0.15},{"panel":"R2","airfoil":"Inverted cambered","i":5,"alpha":8.69,"coef":-0.16},{"panel":"R2","airfoil":"Inverted cambered","i":6,"alpha":10.30,"coef":-0.15},{"panel":"R2","airfoil":"Inverted cambered","i":7,"alpha":11.91,"coef":-0.15},{"panel":"R2","airfoil":"Inverted cambered","i":8,"alpha":12.71,"coef":-0.17},{"panel":"R2","airfoil":"Inverted cambered","i":9,"alpha":13.35,"coef":-0.20},{"panel":"R2","airfoil":"Inverted cambered","i":10,"alpha":14.16,"coef":-0.22},
{"panel":"R2","airfoil":"Inverted cambered","i":11,"alpha":15.12,"coef":-0.19},{"panel":"R2","airfoil":"Inverted cambered","i":12,"alpha":16.24,"coef":-0.13},{"panel":"R2","airfoil":"Inverted cambered","i":13,"alpha":17.21,"coef":-0.18},{"panel":"R2","airfoil":"Inverted cambered","i":14,"alpha":18.33,"coef":-0.15},{"panel":"R2","airfoil":"Inverted cambered","i":15,"alpha":18.98,"coef":-0.19},{"panel":"R2","airfoil":"Inverted cambered","i":16,"alpha":19.94,"coef":-0.25},{"panel":"R2","airfoil":"Inverted cambered","i":17,"alpha":20.74,"coef":-0.29},{"panel":"R2","airfoil":"Inverted cambered","i":18,"alpha":21.22,"coef":-0.34},{"panel":"R2","airfoil":"Inverted cambered","i":19,"alpha":21.71,"coef":-0.42},{"panel":"R2","airfoil":"Inverted cambered","i":20,"alpha":22.19,"coef":-0.52},
{"panel":"R2","airfoil":"Inverted cambered","i":21,"alpha":22.67,"coef":-0.62},{"panel":"R2","airfoil":"Inverted cambered","i":22,"alpha":23.15,"coef":-0.68},{"panel":"R2","airfoil":"Inverted cambered","i":23,"alpha":23.80,"coef":-0.69},{"panel":"R2","airfoil":"Inverted cambered","i":24,"alpha":24.12,"coef":-0.59},{"panel":"R2","airfoil":"Inverted cambered","i":25,"alpha":24.44,"coef":-0.45},{"panel":"R2","airfoil":"Inverted cambered","i":26,"alpha":24.92,"coef":-0.34},{"panel":"R2","airfoil":"Inverted cambered","i":27,"alpha":25.21,"coef":-0.38},{"panel":"R2","airfoil":"Inverted cambered","i":28,"alpha":25.43,"coef":-0.54},{"panel":"R2","airfoil":"Inverted cambered","i":29,"alpha":25.56,"coef":-0.72},{"panel":"R2","airfoil":"Inverted cambered","i":30,"alpha":25.51,"coef":-0.86},
{"panel":"R2","airfoil":"Inverted cambered","i":31,"alpha":25.64,"coef":-1.03},{"panel":"R2","airfoil":"Inverted cambered","i":32,"alpha":25.59,"coef":-1.19},{"panel":"R2","airfoil":"Inverted cambered","i":33,"alpha":25.64,"coef":-1.40},{"panel":"R2","airfoil":"Inverted cambered","i":34,"alpha":25.48,"coef":-1.33},{"panel":"R2","airfoil":"Inverted cambered","i":35,"alpha":25.24,"coef":-1.16},{"panel":"R2","airfoil":"Inverted cambered","i":36,"alpha":25.05,"coef":-1.06},{"panel":"R2","airfoil":"Inverted cambered","i":37,"alpha":24.76,"coef":-0.92},{"panel":"R2","airfoil":"Inverted cambered","i":38,"alpha":24.28,"coef":-0.82},{"panel":"R2","airfoil":"Inverted cambered","i":39,"alpha":23.80,"coef":-0.77},{"panel":"R2","airfoil":"Inverted cambered","i":40,"alpha":23.31,"coef":-0.79},
{"panel":"R2","airfoil":"Inverted cambered","i":41,"alpha":22.83,"coef":-0.76},{"panel":"R2","airfoil":"Inverted cambered","i":42,"alpha":22.35,"coef":-0.69},{"panel":"R2","airfoil":"Inverted cambered","i":43,"alpha":21.87,"coef":-0.56},{"panel":"R2","airfoil":"Inverted cambered","i":44,"alpha":21.22,"coef":-0.49},{"panel":"R2","airfoil":"Inverted cambered","i":45,"alpha":20.74,"coef":-0.42},{"panel":"R2","airfoil":"Inverted cambered","i":46,"alpha":19.94,"coef":-0.37},{"panel":"R2","airfoil":"Inverted cambered","i":47,"alpha":19.14,"coef":-0.32},{"panel":"R2","airfoil":"Inverted cambered","i":48,"alpha":18.33,"coef":-0.25},{"panel":"R2","airfoil":"Inverted cambered","i":49,"alpha":17.53,"coef":-0.24},{"panel":"R2","airfoil":"Inverted cambered","i":50,"alpha":15.92,"coef":-0.22},
{"panel":"R2","airfoil":"Inverted cambered","i":51,"alpha":14.32,"coef":-0.22},{"panel":"R2","airfoil":"Inverted cambered","i":52,"alpha":13.67,"coef":-0.25},{"panel":"R2","airfoil":"Inverted cambered","i":53,"alpha":12.71,"coef":-0.29},{"panel":"R2","airfoil":"Inverted cambered","i":54,"alpha":11.10,"coef":-0.30},{"panel":"R2","airfoil":"Inverted cambered","i":55,"alpha":9.50,"coef":-0.33},{"panel":"R2","airfoil":"Inverted cambered","i":56,"alpha":7.89,"coef":-0.34},{"panel":"R2","airfoil":"Inverted cambered","i":57,"alpha":6.29,"coef":-0.34},{"panel":"R2","airfoil":"Inverted cambered","i":58,"alpha":5.32,"coef":-0.32},{"panel":"R2","airfoil":"Inverted cambered","i":59,"alpha":5.08,"coef":-0.27},{"panel":"R2","airfoil":"Inverted cambered","i":60,"alpha":5.08,"coef":-0.24},

{"panel":"R3","airfoil":"NACA 0012","i":1,"alpha":4.68,"coef":-0.15},{"panel":"R3","airfoil":"NACA 0012","i":2,"alpha":5.40,"coef":-0.22},{"panel":"R3","airfoil":"NACA 0012","i":3,"alpha":6.37,"coef":-0.27},{"panel":"R3","airfoil":"NACA 0012","i":4,"alpha":7.50,"coef":-0.30},{"panel":"R3","airfoil":"NACA 0012","i":5,"alpha":8.31,"coef":-0.32},{"panel":"R3","airfoil":"NACA 0012","i":6,"alpha":9.44,"coef":-0.34},{"panel":"R3","airfoil":"NACA 0012","i":7,"alpha":10.73,"coef":-0.38},{"panel":"R3","airfoil":"NACA 0012","i":8,"alpha":12.34,"coef":-0.42},{"panel":"R3","airfoil":"NACA 0012","i":9,"alpha":13.95,"coef":-0.45},{"panel":"R3","airfoil":"NACA 0012","i":10,"alpha":15.56,"coef":-0.47},
{"panel":"R3","airfoil":"NACA 0012","i":11,"alpha":17.18,"coef":-0.48},{"panel":"R3","airfoil":"NACA 0012","i":12,"alpha":18.79,"coef":-0.48},{"panel":"R3","airfoil":"NACA 0012","i":13,"alpha":20.40,"coef":-0.49},{"panel":"R3","airfoil":"NACA 0012","i":14,"alpha":22.02,"coef":-0.50},{"panel":"R3","airfoil":"NACA 0012","i":15,"alpha":23.63,"coef":-0.51},{"panel":"R3","airfoil":"NACA 0012","i":16,"alpha":24.44,"coef":-0.53},{"panel":"R3","airfoil":"NACA 0012","i":17,"alpha":25.00,"coef":-0.55},{"panel":"R3","airfoil":"NACA 0012","i":18,"alpha":25.27,"coef":-0.60},{"panel":"R3","airfoil":"NACA 0012","i":19,"alpha":25.40,"coef":-0.80},{"panel":"R3","airfoil":"NACA 0012","i":20,"alpha":25.32,"coef":-1.07},
{"panel":"R3","airfoil":"NACA 0012","i":21,"alpha":25.19,"coef":-1.47},{"panel":"R3","airfoil":"NACA 0012","i":22,"alpha":25.03,"coef":-1.93},{"panel":"R3","airfoil":"NACA 0012","i":23,"alpha":24.79,"coef":-2.33},{"panel":"R3","airfoil":"NACA 0012","i":24,"alpha":24.52,"coef":-2.70},{"panel":"R3","airfoil":"NACA 0012","i":25,"alpha":24.27,"coef":-3.00},{"panel":"R3","airfoil":"NACA 0012","i":26,"alpha":24.03,"coef":-3.17},{"panel":"R3","airfoil":"NACA 0012","i":27,"alpha":23.82,"coef":-3.21},{"panel":"R3","airfoil":"NACA 0012","i":28,"alpha":23.60,"coef":-3.15},{"panel":"R3","airfoil":"NACA 0012","i":29,"alpha":23.23,"coef":-2.93},{"panel":"R3","airfoil":"NACA 0012","i":30,"alpha":22.74,"coef":-2.60},
{"panel":"R3","airfoil":"NACA 0012","i":31,"alpha":22.26,"coef":-2.23},{"panel":"R3","airfoil":"NACA 0012","i":32,"alpha":21.77,"coef":-1.93},{"panel":"R3","airfoil":"NACA 0012","i":33,"alpha":21.29,"coef":-1.68},{"panel":"R3","airfoil":"NACA 0012","i":34,"alpha":20.81,"coef":-1.55},{"panel":"R3","airfoil":"NACA 0012","i":35,"alpha":20.32,"coef":-1.43},{"panel":"R3","airfoil":"NACA 0012","i":36,"alpha":19.84,"coef":-1.23},{"panel":"R3","airfoil":"NACA 0012","i":37,"alpha":19.35,"coef":-1.03},{"panel":"R3","airfoil":"NACA 0012","i":38,"alpha":18.79,"coef":-0.82},{"panel":"R3","airfoil":"NACA 0012","i":39,"alpha":18.39,"coef":-0.68},{"panel":"R3","airfoil":"NACA 0012","i":40,"alpha":17.82,"coef":-0.57},
{"panel":"R3","airfoil":"NACA 0012","i":41,"alpha":17.18,"coef":-0.40},{"panel":"R3","airfoil":"NACA 0012","i":42,"alpha":16.53,"coef":-0.22},{"panel":"R3","airfoil":"NACA 0012","i":43,"alpha":16.13,"coef":-0.15},{"panel":"R3","airfoil":"NACA 0012","i":44,"alpha":15.56,"coef":-0.10},{"panel":"R3","airfoil":"NACA 0012","i":45,"alpha":14.92,"coef":-0.08},{"panel":"R3","airfoil":"NACA 0012","i":46,"alpha":13.95,"coef":-0.07},{"panel":"R3","airfoil":"NACA 0012","i":47,"alpha":13.31,"coef":-0.02},{"panel":"R3","airfoil":"NACA 0012","i":48,"alpha":12.66,"coef":0.03},{"panel":"R3","airfoil":"NACA 0012","i":49,"alpha":11.85,"coef":0.12},{"panel":"R3","airfoil":"NACA 0012","i":50,"alpha":11.05,"coef":0.20},
{"panel":"R3","airfoil":"NACA 0012","i":51,"alpha":10.56,"coef":0.30},{"panel":"R3","airfoil":"NACA 0012","i":52,"alpha":10.08,"coef":0.39},{"panel":"R3","airfoil":"NACA 0012","i":53,"alpha":9.44,"coef":0.38},{"panel":"R3","airfoil":"NACA 0012","i":54,"alpha":8.63,"coef":0.33},{"panel":"R3","airfoil":"NACA 0012","i":55,"alpha":7.82,"coef":0.25},{"panel":"R3","airfoil":"NACA 0012","i":56,"alpha":7.10,"coef":0.18},{"panel":"R3","airfoil":"NACA 0012","i":57,"alpha":6.61,"coef":0.22},{"panel":"R3","airfoil":"NACA 0012","i":58,"alpha":5.89,"coef":0.21},{"panel":"R3","airfoil":"NACA 0012","i":59,"alpha":5.24,"coef":0.15},{"panel":"R3","airfoil":"NACA 0012","i":60,"alpha":4.84,"coef":0.05},
{"panel":"R3","airfoil":"NACA 0012","i":61,"alpha":4.68,"coef":-0.07},{"panel":"R3","airfoil":"NACA 0012","i":62,"alpha":4.68,"coef":-0.15},

{"panel":"R3","airfoil":"Inverted cambered","i":1,"alpha":4.68,"coef":-0.17},{"panel":"R3","airfoil":"Inverted cambered","i":2,"alpha":5.89,"coef":-0.15},{"panel":"R3","airfoil":"Inverted cambered","i":3,"alpha":7.18,"coef":-0.13},{"panel":"R3","airfoil":"Inverted cambered","i":4,"alpha":8.31,"coef":-0.16},{"panel":"R3","airfoil":"Inverted cambered","i":5,"alpha":9.76,"coef":-0.15},{"panel":"R3","airfoil":"Inverted cambered","i":6,"alpha":11.05,"coef":-0.18},{"panel":"R3","airfoil":"Inverted cambered","i":7,"alpha":12.34,"coef":-0.17},{"panel":"R3","airfoil":"Inverted cambered","i":8,"alpha":13.95,"coef":-0.17},{"panel":"R3","airfoil":"Inverted cambered","i":9,"alpha":15.24,"coef":-0.13},{"panel":"R3","airfoil":"Inverted cambered","i":10,"alpha":16.37,"coef":-0.12},
{"panel":"R3","airfoil":"Inverted cambered","i":11,"alpha":17.18,"coef":-0.10},{"panel":"R3","airfoil":"Inverted cambered","i":12,"alpha":17.98,"coef":-0.15},{"panel":"R3","airfoil":"Inverted cambered","i":13,"alpha":18.63,"coef":-0.13},{"panel":"R3","airfoil":"Inverted cambered","i":14,"alpha":18.95,"coef":-0.11},{"panel":"R3","airfoil":"Inverted cambered","i":15,"alpha":19.44,"coef":-0.15},{"panel":"R3","airfoil":"Inverted cambered","i":16,"alpha":20.40,"coef":-0.13},{"panel":"R3","airfoil":"Inverted cambered","i":17,"alpha":21.37,"coef":-0.17},{"panel":"R3","airfoil":"Inverted cambered","i":18,"alpha":22.34,"coef":-0.21},{"panel":"R3","airfoil":"Inverted cambered","i":19,"alpha":22.98,"coef":-0.27},{"panel":"R3","airfoil":"Inverted cambered","i":20,"alpha":23.63,"coef":-0.40},
{"panel":"R3","airfoil":"Inverted cambered","i":21,"alpha":24.27,"coef":-0.57},{"panel":"R3","airfoil":"Inverted cambered","i":22,"alpha":24.92,"coef":-0.75},{"panel":"R3","airfoil":"Inverted cambered","i":23,"alpha":25.32,"coef":-0.84},{"panel":"R3","airfoil":"Inverted cambered","i":24,"alpha":25.24,"coef":-0.97},{"panel":"R3","airfoil":"Inverted cambered","i":25,"alpha":25.05,"coef":-1.02},{"panel":"R3","airfoil":"Inverted cambered","i":26,"alpha":24.79,"coef":-0.97},{"panel":"R3","airfoil":"Inverted cambered","i":27,"alpha":24.52,"coef":-0.80},{"panel":"R3","airfoil":"Inverted cambered","i":28,"alpha":24.24,"coef":-0.68},{"panel":"R3","airfoil":"Inverted cambered","i":29,"alpha":23.98,"coef":-0.67},{"panel":"R3","airfoil":"Inverted cambered","i":30,"alpha":23.71,"coef":-0.87},
{"panel":"R3","airfoil":"Inverted cambered","i":31,"alpha":23.47,"coef":-1.13},{"panel":"R3","airfoil":"Inverted cambered","i":32,"alpha":23.23,"coef":-1.42},{"panel":"R3","airfoil":"Inverted cambered","i":33,"alpha":23.02,"coef":-1.35},{"panel":"R3","airfoil":"Inverted cambered","i":34,"alpha":22.79,"coef":-1.10},{"panel":"R3","airfoil":"Inverted cambered","i":35,"alpha":22.50,"coef":-0.96},{"panel":"R3","airfoil":"Inverted cambered","i":36,"alpha":22.02,"coef":-0.88},{"panel":"R3","airfoil":"Inverted cambered","i":37,"alpha":21.61,"coef":-0.77},{"panel":"R3","airfoil":"Inverted cambered","i":38,"alpha":21.34,"coef":-0.57},{"panel":"R3","airfoil":"Inverted cambered","i":39,"alpha":21.05,"coef":-0.47},{"panel":"R3","airfoil":"Inverted cambered","i":40,"alpha":20.56,"coef":-0.43},
{"panel":"R3","airfoil":"Inverted cambered","i":41,"alpha":19.92,"coef":-0.35},{"panel":"R3","airfoil":"Inverted cambered","i":42,"alpha":19.27,"coef":-0.27},{"panel":"R3","airfoil":"Inverted cambered","i":43,"alpha":18.63,"coef":-0.23},{"panel":"R3","airfoil":"Inverted cambered","i":44,"alpha":17.82,"coef":-0.22},{"panel":"R3","airfoil":"Inverted cambered","i":45,"alpha":16.85,"coef":-0.21},{"panel":"R3","airfoil":"Inverted cambered","i":46,"alpha":15.89,"coef":-0.19},{"panel":"R3","airfoil":"Inverted cambered","i":47,"alpha":15.24,"coef":-0.22},{"panel":"R3","airfoil":"Inverted cambered","i":48,"alpha":13.95,"coef":-0.24},{"panel":"R3","airfoil":"Inverted cambered","i":49,"alpha":12.66,"coef":-0.27},{"panel":"R3","airfoil":"Inverted cambered","i":50,"alpha":11.53,"coef":-0.28},
{"panel":"R3","airfoil":"Inverted cambered","i":51,"alpha":9.92,"coef":-0.27},{"panel":"R3","airfoil":"Inverted cambered","i":52,"alpha":8.31,"coef":-0.28},{"panel":"R3","airfoil":"Inverted cambered","i":53,"alpha":6.69,"coef":-0.27},{"panel":"R3","airfoil":"Inverted cambered","i":54,"alpha":5.73,"coef":-0.24},{"panel":"R3","airfoil":"Inverted cambered","i":55,"alpha":4.92,"coef":-0.22},{"panel":"R3","airfoil":"Inverted cambered","i":56,"alpha":4.68,"coef":-0.17}
]
},
"columns": 2,
"spacing": {"row": 34, "column": 107},
"bounds": "flush",
"align": "each",
"resolve": {"scale": {"x": "independent", "y": "independent"}},
"concat": [
{
 "width": 517, "height": 451,
 "encoding": {
  "x": {"field": "alpha", "type": "quantitative", "scale": {"domain": [1.764, 25], "nice": false, "zero": false}, "axis": {"orient": "bottom", "values": [5, 15, 25], "domain": false, "tickSize": -22, "labels": false, "title": null}},
  "y": {"field": "coef", "type": "quantitative", "scale": {"domain": [0, 4.51], "nice": false, "zero": false}, "axis": null}
 },
 "layer": [
  {"data": {"name": "frame"}, "transform": [{"filter": "datum.panel == 'L1'"}], "mark": {"type": "line", "strokeWidth": 2.5, "color": "black", "clip": false}, "encoding": {"order": {"field": "i", "type": "quantitative"}}},
  {"data": {"name": "curves"}, "transform": [{"filter": "datum.panel == 'L1'"}], "mark": {"type": "line", "strokeWidth": 2.5, "strokeJoin": "round", "color": "black", "clip": false}, "encoding": {"strokeDash": {"field": "airfoil", "type": "nominal", "scale": {"domain": ["NACA 0012", "Inverted cambered"], "range": [[1, 0], [14, 8]]}, "legend": null}, "order": {"field": "i", "type": "quantitative"}}},
  {"data": {"name": "labels"}, "transform": [{"filter": "datum.panel == 'L1' && datum.role == 'sym'"}], "mark": {"type": "text", "align": "left", "baseline": "middle", "fontSize": 27, "clip": false}, "encoding": {"text": {"field": "text"}}},
  {"data": {"name": "labels"}, "transform": [{"filter": "datum.panel == 'L1' && datum.role == 'sub'"}], "mark": {"type": "text", "align": "left", "baseline": "middle", "fontSize": 20, "clip": false}, "encoding": {"text": {"field": "text"}}},
  {"data": {"name": "labels"}, "transform": [{"filter": "datum.panel == 'L1' && datum.role == 'k'"}], "mark": {"type": "text", "align": "left", "baseline": "middle", "fontSize": 28, "clip": false}, "encoding": {"text": {"field": "text"}}}
 ]
},
{
 "width": 508, "height": 438,
 "resolve": {"axis": {"x": "independent"}},
 "encoding": {
  "x": {"field": "alpha", "type": "quantitative", "scale": {"domain": [1.961, 25], "nice": false, "zero": false}, "axis": null},
  "y": {"field": "coef", "type": "quantitative", "scale": {"domain": [-4.38, 0], "nice": false, "zero": false}, "axis": {"orient": "left", "domain": true, "ticks": false, "labels": false, "title": null}}
 },
 "layer": [
  {"data": {"name": "frame"}, "transform": [{"filter": "datum.panel == 'R1'"}], "mark": {"type": "line", "strokeWidth": 2.5, "color": "black", "clip": false}, "encoding": {"x": {"field": "alpha", "type": "quantitative", "scale": {"domain": [1.961, 25], "nice": false, "zero": false}, "axis": {"orient": "top", "values": [5, 15, 25], "domain": true, "tickSize": -20, "labels": false, "title": null}}, "order": {"field": "i", "type": "quantitative"}}},
  {"data": {"name": "curves"}, "transform": [{"filter": "datum.panel == 'R1'"}], "mark": {"type": "line", "strokeWidth": 2.5, "strokeJoin": "round", "color": "black", "clip": false}, "encoding": {"x": {"field": "alpha", "type": "quantitative", "scale": {"domain": [1.961, 25], "nice": false, "zero": false}, "axis": {"orient": "bottom", "values": [5, 15, 25], "domain": false, "tickSize": -18, "offset": -7, "labels": false, "title": null}}, "strokeDash": {"field": "airfoil", "type": "nominal", "scale": {"domain": ["NACA 0012", "Inverted cambered"], "range": [[1, 0], [14, 8]]}, "legend": null}, "order": {"field": "i", "type": "quantitative"}}},
  {"data": {"name": "legend"}, "mark": {"type": "line", "strokeWidth": 2.5, "color": "black", "clip": false}, "encoding": {"strokeDash": {"field": "airfoil", "type": "nominal", "scale": {"domain": ["NACA 0012", "Inverted cambered"], "range": [[1, 0], [14, 8]]}, "legend": null}, "order": {"field": "i", "type": "quantitative"}}},
  {"data": {"name": "labels"}, "transform": [{"filter": "datum.panel == 'R1' && datum.role == 'sym'"}], "mark": {"type": "text", "align": "left", "baseline": "middle", "fontSize": 27, "clip": false}, "encoding": {"text": {"field": "text"}}},
  {"data": {"name": "labels"}, "transform": [{"filter": "datum.panel == 'R1' && datum.role == 'sub'"}], "mark": {"type": "text", "align": "left", "baseline": "middle", "fontSize": 20, "clip": false}, "encoding": {"text": {"field": "text"}}},
  {"data": {"name": "labels"}, "transform": [{"filter": "datum.panel == 'R1' && datum.role == 'leg'"}], "mark": {"type": "text", "align": "left", "baseline": "middle", "fontSize": 28, "clip": false}, "encoding": {"text": {"field": "text"}}}
 ]
},
{
 "width": 527, "height": 448,
 "encoding": {
  "x": {"field": "alpha", "type": "quantitative", "scale": {"domain": [1.368, 25], "nice": false, "zero": false}, "axis": {"orient": "bottom", "values": [5, 15, 25], "domain": false, "tickSize": -22, "labels": false, "title": null}},
  "y": {"field": "coef", "type": "quantitative", "scale": {"domain": [0, 4.48], "nice": false, "zero": false}, "axis": null}
 },
 "layer": [
  {"data": {"name": "frame"}, "transform": [{"filter": "datum.panel == 'L2'"}], "mark": {"type": "line", "strokeWidth": 2.5, "color": "black", "clip": false}, "encoding": {"order": {"field": "i", "type": "quantitative"}}},
  {"data": {"name": "curves"}, "transform": [{"filter": "datum.panel == 'L2'"}], "mark": {"type": "line", "strokeWidth": 2.5, "strokeJoin": "round", "color": "black", "clip": false}, "encoding": {"strokeDash": {"field": "airfoil", "type": "nominal", "scale": {"domain": ["NACA 0012", "Inverted cambered"], "range": [[1, 0], [14, 8]]}, "legend": null}, "order": {"field": "i", "type": "quantitative"}}},
  {"data": {"name": "labels"}, "transform": [{"filter": "datum.panel == 'L2' && datum.role == 'sym'"}], "mark": {"type": "text", "align": "left", "baseline": "middle", "fontSize": 27, "clip": false}, "encoding": {"text": {"field": "text"}}},
  {"data": {"name": "labels"}, "transform": [{"filter": "datum.panel == 'L2' && datum.role == 'sub'"}], "mark": {"type": "text", "align": "left", "baseline": "middle", "fontSize": 20, "clip": false}, "encoding": {"text": {"field": "text"}}},
  {"data": {"name": "labels"}, "transform": [{"filter": "datum.panel == 'L2' && datum.role == 'k'"}], "mark": {"type": "text", "align": "left", "baseline": "middle", "fontSize": 28, "clip": false}, "encoding": {"text": {"field": "text"}}}
 ]
},
{
 "width": 518, "height": 433,
 "resolve": {"axis": {"x": "independent"}},
 "encoding": {
  "x": {"field": "alpha", "type": "quantitative", "scale": {"domain": [1.771, 25], "nice": false, "zero": false}, "axis": null},
  "y": {"field": "coef", "type": "quantitative", "scale": {"domain": [-4.33, 0], "nice": false, "zero": false}, "axis": {"orient": "left", "domain": true, "ticks": false, "labels": false, "title": null}}
 },
 "layer": [
  {"data": {"name": "frame"}, "transform": [{"filter": "datum.panel == 'R2'"}], "mark": {"type": "line", "strokeWidth": 2.5, "color": "black", "clip": false}, "encoding": {"x": {"field": "alpha", "type": "quantitative", "scale": {"domain": [1.771, 25], "nice": false, "zero": false}, "axis": {"orient": "top", "values": [5, 15, 25], "domain": true, "tickSize": -20, "labels": false, "title": null}}, "order": {"field": "i", "type": "quantitative"}}},
  {"data": {"name": "curves"}, "transform": [{"filter": "datum.panel == 'R2'"}], "mark": {"type": "line", "strokeWidth": 2.5, "strokeJoin": "round", "color": "black", "clip": false}, "encoding": {"x": {"field": "alpha", "type": "quantitative", "scale": {"domain": [1.771, 25], "nice": false, "zero": false}, "axis": {"orient": "bottom", "values": [5, 15, 25], "domain": false, "tickSize": -20, "labels": false, "title": null}}, "strokeDash": {"field": "airfoil", "type": "nominal", "scale": {"domain": ["NACA 0012", "Inverted cambered"], "range": [[1, 0], [14, 8]]}, "legend": null}, "order": {"field": "i", "type": "quantitative"}}},
  {"data": {"name": "labels"}, "transform": [{"filter": "datum.panel == 'R2' && datum.role == 'sym'"}], "mark": {"type": "text", "align": "left", "baseline": "middle", "fontSize": 27, "clip": false}, "encoding": {"text": {"field": "text"}}},
  {"data": {"name": "labels"}, "transform": [{"filter": "datum.panel == 'R2' && datum.role == 'sub'"}], "mark": {"type": "text", "align": "left", "baseline": "middle", "fontSize": 20, "clip": false}, "encoding": {"text": {"field": "text"}}}
 ]
},
{
 "width": 537, "height": 446,
 "encoding": {
  "x": {"field": "alpha", "type": "quantitative", "scale": {"domain": [0.865, 25], "nice": false, "zero": false}, "axis": {"orient": "bottom", "values": [5, 15, 25], "domain": false, "tickSize": -22, "labels": true, "labelPadding": 30, "title": "α, deg", "titlePadding": 12, "titleX": 314.5, "titleAlign": "center"}},
  "y": {"field": "coef", "type": "quantitative", "scale": {"domain": [0, 4.46], "nice": false, "zero": false}, "axis": null}
 },
 "layer": [
  {"data": {"name": "frame"}, "transform": [{"filter": "datum.panel == 'L3'"}], "mark": {"type": "line", "strokeWidth": 2.5, "color": "black", "clip": false}, "encoding": {"order": {"field": "i", "type": "quantitative"}}},
  {"data": {"name": "curves"}, "transform": [{"filter": "datum.panel == 'L3'"}], "mark": {"type": "line", "strokeWidth": 2.5, "strokeJoin": "round", "color": "black", "clip": false}, "encoding": {"strokeDash": {"field": "airfoil", "type": "nominal", "scale": {"domain": ["NACA 0012", "Inverted cambered"], "range": [[1, 0], [14, 8]]}, "legend": null}, "order": {"field": "i", "type": "quantitative"}}},
  {"data": {"name": "labels"}, "transform": [{"filter": "datum.panel == 'L3' && datum.role == 'sym'"}], "mark": {"type": "text", "align": "left", "baseline": "middle", "fontSize": 27, "clip": false}, "encoding": {"text": {"field": "text"}}},
  {"data": {"name": "labels"}, "transform": [{"filter": "datum.panel == 'L3' && datum.role == 'sub'"}], "mark": {"type": "text", "align": "left", "baseline": "middle", "fontSize": 20, "clip": false}, "encoding": {"text": {"field": "text"}}},
  {"data": {"name": "labels"}, "transform": [{"filter": "datum.panel == 'L3' && datum.role == 'k'"}], "mark": {"type": "text", "align": "left", "baseline": "middle", "fontSize": 28, "clip": false}, "encoding": {"text": {"field": "text"}}}
 ]
},
{
 "width": 526, "height": 436,
 "resolve": {"axis": {"x": "independent"}},
 "encoding": {
  "x": {"field": "alpha", "type": "quantitative", "scale": {"domain": [1.199, 25], "nice": false, "zero": false}, "axis": null},
  "y": {"field": "coef", "type": "quantitative", "scale": {"domain": [-4.36, 0], "nice": false, "zero": false}, "axis": {"orient": "left", "domain": true, "ticks": false, "labels": false, "title": null}}
 },
 "layer": [
  {"data": {"name": "frame"}, "transform": [{"filter": "datum.panel == 'R3'"}], "mark": {"type": "line", "strokeWidth": 2.5, "color": "black", "clip": false}, "encoding": {"x": {"field": "alpha", "type": "quantitative", "scale": {"domain": [1.199, 25], "nice": false, "zero": false}, "axis": {"orient": "top", "values": [5, 15, 25], "domain": true, "tickSize": -20, "labels": false, "title": null}}, "order": {"field": "i", "type": "quantitative"}}},
  {"data": {"name": "curves"}, "transform": [{"filter": "datum.panel == 'R3'"}], "mark": {"type": "line", "strokeWidth": 2.5, "strokeJoin": "round", "color": "black", "clip": false}, "encoding": {"x": {"field": "alpha", "type": "quantitative", "scale": {"domain": [1.199, 25], "nice": false, "zero": false}, "axis": {"orient": "bottom", "values": [5, 15, 25], "domain": false, "tickSize": -20, "offset": -23, "labels": true, "labelPadding": 21, "title": "α, deg", "titlePadding": 14, "titleX": 305, "titleAlign": "center"}}, "strokeDash": {"field": "airfoil", "type": "nominal", "scale": {"domain": ["NACA 0012", "Inverted cambered"], "range": [[1, 0], [14, 8]]}, "legend": null}, "order": {"field": "i", "type": "quantitative"}}},
  {"data": {"name": "labels"}, "transform": [{"filter": "datum.panel == 'R3' && datum.role == 'sym'"}], "mark": {"type": "text", "align": "left", "baseline": "middle", "fontSize": 27, "clip": false}, "encoding": {"text": {"field": "text"}}},
  {"data": {"name": "labels"}, "transform": [{"filter": "datum.panel == 'R3' && datum.role == 'sub'"}], "mark": {"type": "text", "align": "left", "baseline": "middle", "fontSize": 20, "clip": false}, "encoding": {"text": {"field": "text"}}}
 ]
}
]
}
